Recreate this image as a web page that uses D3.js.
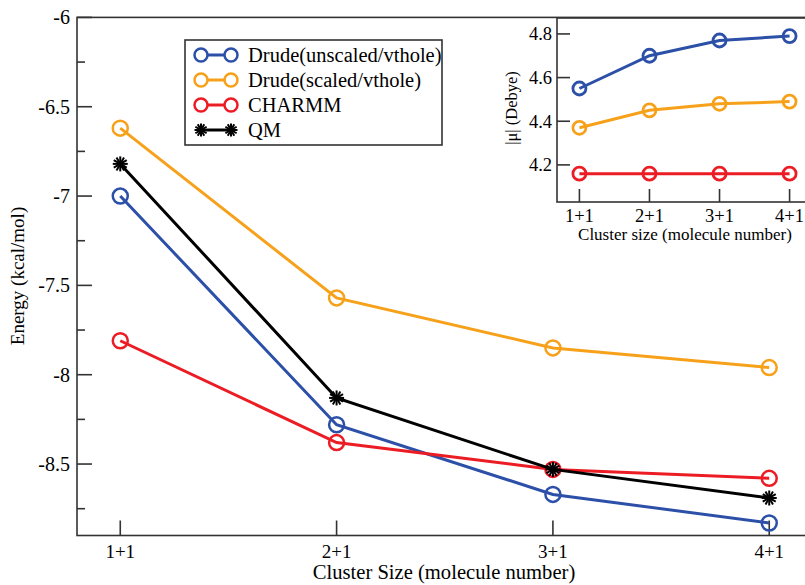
<!DOCTYPE html>
<html>
<head>
<meta charset="utf-8">
<script src="https://cdn.jsdelivr.net/npm/d3@7"></script>
<style>
  body { margin: 0; background: #fff; overflow: hidden; }
  svg { display: block; font-family: "Liberation Serif", "Times New Roman", serif; }
</style>
</head>
<body>
<div id="viz"></div>
<script>
// cluster sizes (x categories)
const clusters = ['1+1', '2+1', '3+1', '4+1'];

// main plot: interaction energy (kcal/mol)
const drudeUnscaled = [-7.0, -8.28, -8.67, -8.83];
const drudeScaled = [-6.62, -7.57, -7.85, -7.96];
const charmm = [-7.81, -8.38, -8.53, -8.58];
const qm = [-6.82, -8.13, -8.53, -8.69];

// inset: dipole moment |mu| (Debye)
const dipoleUnscaled = [4.55, 4.70, 4.77, 4.79];
const dipoleScaled = [4.37, 4.45, 4.48, 4.49];
const dipoleCharmm = [4.16, 4.16, 4.16, 4.16];

const yTicks = [-6, -6.5, -7, -7.5, -8, -8.5];
const yMinor = [-6.25, -6.75, -7.25, -7.75, -8.25, -8.75];
const insetTicks = [4.2, 4.4, 4.6, 4.8];

const cols = {
  blue: '#2c4fa8',
  orange: '#f7a11a',
  red: '#ec1c24',
  black: '#000000',
};

const series = [
  { name: 'Drude(unscaled/vthole)', values: drudeUnscaled, color: cols.blue, marker: 'circle' },
  { name: 'Drude(scaled/vthole)', values: drudeScaled, color: cols.orange, marker: 'circle' },
  { name: 'CHARMM', values: charmm, color: cols.red, marker: 'circle' },
  { name: 'QM', values: qm, color: cols.black, marker: 'star' },
];
const insetSeries = [
  { values: dipoleUnscaled, color: cols.blue },
  { values: dipoleScaled, color: cols.orange },
  { values: dipoleCharmm, color: cols.red },
];

const width = 805;
const height = 585;
const axisCol = '#333';

const svg = d3.select('#viz').append('svg')
  .attr('width', width)
  .attr('height', height);

// main scales
const x = d3.scaleLinear().domain([0.8, 4.2]).range([77, 812.5]);
const y = d3.scaleLinear().domain([-8.9, -6]).range([535.5, 17.4]);

const main = svg.append('g');

// frame
main.append('rect')
  .attr('x', x(0.8)).attr('y', y(-6))
  .attr('width', x(4.2) - x(0.8)).attr('height', y(-8.9) - y(-6))
  .attr('fill', 'none').attr('stroke', axisCol).attr('stroke-width', 1.6);

// y ticks (inward)
main.selectAll('.ytick').data(yTicks).enter().append('line')
  .attr('x1', x(0.8)).attr('x2', x(0.8) + 15)
  .attr('y1', d => y(d)).attr('y2', d => y(d))
  .attr('stroke', axisCol).attr('stroke-width', 1.6);
main.selectAll('.yminor').data(yMinor).enter().append('line')
  .attr('x1', x(0.8)).attr('x2', x(0.8) + 8)
  .attr('y1', d => y(d)).attr('y2', d => y(d))
  .attr('stroke', axisCol).attr('stroke-width', 1.6);
main.selectAll('.ylab').data(yTicks).enter().append('text')
  .attr('x', x(0.8) - 7).attr('y', d => y(d) + 7)
  .attr('text-anchor', 'end')
  .attr('font-size', 20)
  .text(d => d3.format('')(d).replace('−', '-'));

// x ticks
main.selectAll('.xtick').data(clusters).enter().append('line')
  .attr('x1', (d, i) => x(i + 1)).attr('x2', (d, i) => x(i + 1))
  .attr('y1', y(-8.9)).attr('y2', y(-8.9) - 15)
  .attr('stroke', axisCol).attr('stroke-width', 1.6);
main.selectAll('.xlab').data(clusters).enter().append('text')
  .attr('x', (d, i) => x(i + 1)).attr('y', 558)
  .attr('text-anchor', 'middle')
  .attr('font-size', 19)
  .text(d => d);

main.append('text')
  .attr('x', 444).attr('y', 579)
  .attr('text-anchor', 'middle')
  .attr('font-size', 20.6)
  .text('Cluster Size (molecule number)');

main.append('text')
  .attr('transform', 'translate(24,276) rotate(-90)')
  .attr('text-anchor', 'middle')
  .attr('font-size', 19)
  .text('Energy (kcal/mol)');

/**
 * draw an asterisk marker
 */
function star(g, cx, cy, r, color) {
  for (let k = 0; k < 6; k++) {
    const a = (k * Math.PI) / 6;
    g.append('line')
      .attr('x1', cx - r * Math.cos(a)).attr('y1', cy - r * Math.sin(a))
      .attr('x2', cx + r * Math.cos(a)).attr('y2', cy + r * Math.sin(a))
      .attr('stroke', color).attr('stroke-width', 2);
  }
}

const line = d3.line()
  .x((d, i) => x(i + 1))
  .y(d => y(d));

series.forEach(s => {
  const g = main.append('g');
  g.append('path')
    .attr('d', line(s.values))
    .attr('fill', 'none')
    .attr('stroke', s.color)
    .attr('stroke-width', 3);
  s.values.forEach((v, i) => {
    if (s.marker === 'circle') {
      g.append('circle')
        .attr('cx', x(i + 1)).attr('cy', y(v)).attr('r', 7.5)
        .attr('fill', 'none').attr('stroke', s.color).attr('stroke-width', 2.5);
    } else {
      star(g, x(i + 1), y(v), 7.5, s.color);
    }
  });
});

// legend
const legend = svg.append('g').attr('transform', 'translate(185,40)');
legend.append('rect')
  .attr('width', 257).attr('height', 105)
  .attr('fill', '#fff').attr('stroke', axisCol).attr('stroke-width', 1.6);
series.forEach((s, i) => {
  const ly = 15 + i * 25;
  const g = legend.append('g');
  g.append('line')
    .attr('x1', 16).attr('x2', 46).attr('y1', ly).attr('y2', ly)
    .attr('stroke', s.color).attr('stroke-width', 3);
  [16, 46].forEach(cx => {
    if (s.marker === 'circle') {
      g.append('circle').attr('cx', cx).attr('cy', ly).attr('r', 6.5)
        .attr('fill', '#fff').attr('stroke', s.color).attr('stroke-width', 2.5);
    } else {
      star(g, cx, ly, 6.5, s.color);
    }
  });
  g.append('text')
    .attr('x', 63).attr('y', ly + 7)
    .attr('font-size', 20.5)
    .text(s.name);
});

// inset
const xi = d3.scaleLinear().domain([0.68, 4.32]).range([557, 812]);
const yi = d3.scaleLinear().domain([4.03, 4.873]).range([202, 18]);
const inset = svg.append('g');
inset.append('rect')
  .attr('x', xi(0.68)).attr('y', yi(4.873))
  .attr('width', xi(4.32) - xi(0.68)).attr('height', yi(4.03) - yi(4.873))
  .attr('fill', '#fff').attr('stroke', axisCol).attr('stroke-width', 1.6);

inset.selectAll('.iytick').data(insetTicks).enter().append('line')
  .attr('x1', xi(0.68)).attr('x2', xi(0.68) + 13)
  .attr('y1', d => yi(d)).attr('y2', d => yi(d))
  .attr('stroke', axisCol).attr('stroke-width', 1.6);
inset.selectAll('.iylab').data(insetTicks).enter().append('text')
  .attr('x', xi(0.68) - 5).attr('y', d => yi(d) + 6.5)
  .attr('text-anchor', 'end')
  .attr('font-size', 18.5)
  .text(d => d3.format('.1f')(d));
inset.selectAll('.ixtick').data(clusters).enter().append('line')
  .attr('x1', (d, i) => xi(i + 1)).attr('x2', (d, i) => xi(i + 1))
  .attr('y1', yi(4.03)).attr('y2', yi(4.03) - 13)
  .attr('stroke', axisCol).attr('stroke-width', 1.6);
inset.selectAll('.ixlab').data(clusters).enter().append('text')
  .attr('x', (d, i) => xi(i + 1)).attr('y', 222)
  .attr('text-anchor', 'middle')
  .attr('font-size', 18.5)
  .text(d => d);
inset.append('text')
  .attr('x', 685).attr('y', 240)
  .attr('text-anchor', 'middle')
  .attr('font-size', 17)
  .text('Cluster size (molecule number)');
inset.append('text')
  .attr('transform', 'translate(517,108) rotate(-90)')
  .attr('text-anchor', 'middle')
  .attr('font-size', 16.5)
  .text('|μ| (Debye)');

const iline = d3.line()
  .x((d, i) => xi(i + 1))
  .y(d => yi(d));

insetSeries.forEach(s => {
  const g = inset.append('g');
  g.append('path')
    .attr('d', iline(s.values))
    .attr('fill', 'none')
    .attr('stroke', s.color)
    .attr('stroke-width', 3);
  g.selectAll('circle').data(s.values).enter().append('circle')
    .attr('cx', (d, i) => xi(i + 1)).attr('cy', d => yi(d)).attr('r', 6.5)
    .attr('fill', 'none').attr('stroke', s.color).attr('stroke-width', 2.8);
});
</script>
</body>
</html>
